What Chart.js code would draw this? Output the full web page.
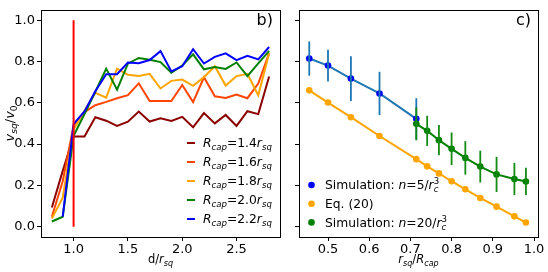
<!DOCTYPE html>
<html>
<head>
<meta charset="utf-8">
<script src="https://cdn.jsdelivr.net/npm/chart.js@4"></script>
<style>
  html, body { margin: 0; padding: 0; background: #fff; }
  #wrap { position: relative; width: 548px; height: 272px; }
  canvas { position: absolute; top: 0; }
  #left { left: 0; }
  #right { left: 290px; }
</style>
</head>
<body>
<div id="wrap">
  <canvas id="left" width="290" height="272"></canvas>
  <canvas id="right" width="258" height="272"></canvas>
</div>
<script>
// ---- panel b) data: v_sq/v_0 vs d/r_sq for several R_cap
const dSq = [0.8, 0.9, 1.0, 1.1, 1.2, 1.3, 1.4, 1.5, 1.6, 1.7, 1.8, 1.9, 2.0, 2.1, 2.2, 2.3, 2.4, 2.5, 2.6, 2.7, 2.8];
const cap14 = [0.093, 0.27, 0.437, 0.437, 0.53, 0.513, 0.488, 0.508, 0.557, 0.509, 0.525, 0.512, 0.532, 0.481, 0.55, 0.5, 0.541, 0.488, 0.559, 0.545, 0.727];
const cap16 = [0.048, 0.22, 0.49, 0.555, 0.588, 0.604, 0.622, 0.637, 0.694, 0.608, 0.608, 0.608, 0.686, 0.603, 0.723, 0.631, 0.623, 0.64, 0.622, 0.693, 0.84];
const cap18 = [0.04, 0.14, 0.47, 0.56, 0.648, 0.625, 0.765, 0.735, 0.729, 0.74, 0.669, 0.706, 0.712, 0.682, 0.724, 0.777, 0.683, 0.729, 0.74, 0.636, 0.84];
const cap20 = [0.025, 0.048, 0.44, 0.545, 0.653, 0.765, 0.663, 0.789, 0.817, 0.808, 0.797, 0.745, 0.78, 0.834, 0.762, 0.773, 0.764, 0.795, 0.729, 0.791, 0.851];
const cap22 = [null, 0.048, 0.497, 0.558, 0.656, 0.738, 0.738, 0.795, 0.791, 0.807, 0.85, 0.752, 0.777, 0.859, 0.79, 0.822, 0.839, 0.806, 0.827, 0.81, 0.87];
const capLine = [[1.0, 0.0], [1.0, 1.0]];

// ---- panel c) data: v_sq/v_0 vs r_sq/R_cap
const rBlue = [0.4545, 0.5, 0.5556, 0.625, 0.7143];
const vBlue = [0.814, 0.780, 0.717, 0.645, 0.522];
const eBlue = [0.083, 0.077, 0.108, 0.105, 0.10];
const rEq = [0.4545, 0.5, 0.5556, 0.625, 0.7143, 0.7407, 0.7692, 0.8, 0.8333, 0.8696, 0.9091, 0.9524, 0.9804];
const vEq = [0.660, 0.601, 0.530, 0.439, 0.327, 0.292, 0.258, 0.220, 0.181, 0.139, 0.097, 0.050, 0.020];
const rGreen = [0.7143, 0.7407, 0.7692, 0.8, 0.8333, 0.8696, 0.9091, 0.9524, 0.9804];
const vGreen = [0.498, 0.464, 0.419, 0.377, 0.333, 0.291, 0.253, 0.231, 0.219];
const eGreen = [0.08, 0.073, 0.073, 0.079, 0.081, 0.077, 0.085, 0.078, 0.066];

// ---- ticks
const yTicks = [0.0, 0.2, 0.4, 0.6, 0.8, 1.0];
const xTicksB = [1.0, 1.5, 2.0, 2.5];
const xTicksC = [0.5, 0.6, 0.7, 0.8, 0.9, 1.0];

const FONT = '"DejaVu Sans"';
Chart.defaults.color = '#000';
Chart.defaults.font.family = FONT;

const pts = (xs, ys) => xs.map((x, i) => ({ x: x, y: ys[i] }));

// draws text with italic / sub / sup pieces, returns width
function drawRich(ctx, parts, x, y, size, align) {
  const segs = parts.map(p => {
    const s = p.pos ? size * 0.7 : size;
    ctx.font = (p.it ? 'italic ' : '') + s + 'px ' + FONT;
    let w = ctx.measureText(p.t).width;
    if (p.sup) {
      ctx.font = s + 'px ' + FONT;
      w = Math.max(w, ctx.measureText(p.sup).width);
    }
    return { p: p, s: s, w: w };
  });
  const total = segs.reduce((a, b) => a + b.w, 0);
  let cx = align === 'center' ? x - total / 2 : (align === 'right' ? x - total : x);
  ctx.textAlign = 'left';
  ctx.textBaseline = 'alphabetic';
  ctx.fillStyle = '#000';
  segs.forEach(sg => {
    const p = sg.p;
    ctx.font = (p.it ? 'italic ' : '') + sg.s + 'px ' + FONT;
    const dy = p.pos === 'sub' ? size * 0.24 : (p.pos === 'sup' ? -size * 0.42 : 0);
    ctx.fillText(p.t, cx, y + dy);
    if (p.sup) {
      ctx.font = sg.s + 'px ' + FONT;
      ctx.fillText(p.sup, cx, y - size * 0.42);
    }
    cx += sg.w;
  });
  return total;
}

const capLabel = v => [{ t: 'R', it: 1 }, { t: 'cap', it: 1, pos: 'sub' }, { t: '=' + v }, { t: 'r', it: 1 }, { t: 'sq', it: 1, pos: 'sub' }];

// frame, panel letter, axis titles, legend
const decor = {
  id: 'decor',
  afterDatasetsDraw(chart, args, o) {
    const ctx = chart.ctx, a = chart.chartArea;
    ctx.save();
    ctx.strokeStyle = '#000';
    ctx.lineWidth = 1;
    ctx.strokeRect(Math.round(a.left) + 0.5, Math.round(a.top) + 0.5, Math.round(a.right - a.left), Math.round(a.bottom - a.top));
    ctx.font = '16px ' + FONT;
    ctx.fillStyle = '#000';
    ctx.textAlign = 'right';
    ctx.textBaseline = 'alphabetic';
    ctx.fillText(o.tag, a.right - 7, 25);
    drawRich(ctx, o.xTitle, (a.left + a.right) / 2, 263, 11.5, 'center');
    if (o.yTitle) {
      ctx.save();
      ctx.translate(13.5, (a.top + a.bottom) / 2);
      ctx.rotate(-Math.PI / 2);
      drawRich(ctx, o.yTitle, 0, 0, 13, 'center');
      ctx.restore();
    }
    chart.data.datasets.forEach((ds, i) => {
      if (!ds.legendParts) return;
      const k = ds.legendRow;
      const ry = o.legY + k * o.legStep;
      if (o.legKind === 'line') {
        ctx.strokeStyle = ds.borderColor;
        ctx.lineWidth = 2;
        ctx.beginPath();
        ctx.moveTo(o.legX, ry);
        ctx.lineTo(o.legX + 8, ry);
        ctx.stroke();
      } else {
        ctx.fillStyle = ds.pointBackgroundColor;
        ctx.beginPath();
        ctx.arc(o.legX + 3, ry, 3.3, 0, Math.PI * 2);
        ctx.fill();
      }
      drawRich(ctx, ds.legendParts, o.legText, ry + 4.3, 12.3, 'left');
    });
    ctx.restore();
  }
};

// vertical error bars for the dataset just drawn
const errBars = {
  id: 'errBars',
  afterDatasetDraw(chart, args) {
    const ds = chart.data.datasets[args.index];
    if (!ds.errors) return;
    const ctx = chart.ctx, xs = chart.scales.x, ys = chart.scales.y;
    ctx.save();
    ctx.strokeStyle = ds.errColor;
    ctx.lineWidth = 1.8;
    ds.data.forEach((p, i) => {
      const px = xs.getPixelForValue(p.x);
      ctx.beginPath();
      ctx.moveTo(px, ys.getPixelForValue(p.y - ds.errors[i]));
      ctx.lineTo(px, ys.getPixelForValue(p.y + ds.errors[i]));
      ctx.stroke();
    });
    ctx.restore();
  }
};

function axes(xMin, xMax, xTicks, yWidth, showY) {
  return {
    x: {
      type: 'linear', min: xMin, max: xMax,
      afterBuildTicks: ax => { ax.ticks = xTicks.map(v => ({ value: v })); },
      afterFit: ax => { ax.height = 35; },
      grid: { drawOnChartArea: false, tickLength: 4, color: '#000' },
      border: { display: false },
      ticks: { autoSkip: false, maxRotation: 0, padding: 1, font: { size: 13 }, callback: v => v.toFixed(1) }
    },
    y: {
      type: 'linear', min: -0.05, max: 1.05,
      afterBuildTicks: ax => { ax.ticks = yTicks.map(v => ({ value: v })); },
      afterFit: ax => { ax.width = yWidth; },
      grid: { drawOnChartArea: false, tickLength: 4, color: '#000' },
      border: { display: false },
      ticks: { padding: 2, font: { size: 13 }, callback: v => showY ? v.toFixed(1) : '' }
    }
  };
}

const lineDs = (ys, color, row, val, order) => ({
  data: pts(dSq, ys), borderColor: color, borderWidth: 2, pointRadius: 0,
  order: order, legendParts: capLabel(val), legendRow: row, spanGaps: false
});

new Chart(document.getElementById('left'), {
  type: 'line',
  data: {
    datasets: [
      lineDs(cap14, '#8b0000', 0, '1.4', 5),
      lineDs(cap16, '#ff4500', 1, '1.6', 4),
      lineDs(cap18, '#ffa500', 2, '1.8', 3),
      lineDs(cap20, '#008000', 3, '2.0', 2),
      lineDs(cap22, '#0000ff', 4, '2.2', 1),
      { data: capLine.map(p => ({ x: p[0], y: p[1] })), borderColor: '#ff0000', borderWidth: 2, pointRadius: 0, order: 0 }
    ]
  },
  options: {
    responsive: false, animation: false, events: [],
    layout: { padding: { top: 3, right: 10, left: 0, bottom: 0 } },
    scales: axes(0.7, 2.9, xTicksB, 41, true),
    plugins: {
      legend: { display: false }, tooltip: { enabled: false },
      decor: {
        tag: 'b)',
        xTitle: [{ t: 'd/' }, { t: 'r', it: 1 }, { t: 'sq', it: 1, pos: 'sub' }],
        yTitle: [{ t: 'v', it: 1 }, { t: 'sq', it: 1, pos: 'sub' }, { t: '/' }, { t: 'v', it: 1 }, { t: '0', pos: 'sub' }],
        legKind: 'line', legX: 187, legText: 203, legY: 143, legStep: 19
      }
    }
  },
  plugins: [decor]
});

const dotDs = (xs, ys, line, dot, order, parts, row, errs, errColor) => ({
  data: pts(xs, ys), borderColor: line, borderWidth: 2,
  pointRadius: 3.3, pointBackgroundColor: dot, pointBorderColor: dot, pointBorderWidth: 0,
  order: order, legendParts: parts, legendRow: row, errors: errs, errColor: errColor
});

new Chart(document.getElementById('right'), {
  type: 'line',
  data: {
    datasets: [
      dotDs(rBlue, vBlue, '#1f77b4', '#0000ff', 3,
        [{ t: 'Simulation: ' }, { t: 'n', it: 1 }, { t: '=5/' }, { t: 'r', it: 1 }, { t: 'c', it: 1, pos: 'sub', sup: '3' }], 0, eBlue, '#1f77b4'),
      dotDs(rEq, vEq, '#ffa500', '#ffa500', 2, [{ t: 'Eq. (20)' }], 1, null, null),
      dotDs(rGreen, vGreen, '#008000', '#008000', 1,
        [{ t: 'Simulation: ' }, { t: 'n', it: 1 }, { t: '=20/' }, { t: 'r', it: 1 }, { t: 'c', it: 1, pos: 'sub', sup: '3' }], 2, eGreen, '#138a13')
    ]
  },
  options: {
    responsive: false, animation: false, events: [],
    layout: { padding: { top: 3, right: 10, left: 0, bottom: 0 } },
    scales: axes(0.4296, 1.0097, xTicksC, 9, false),
    plugins: {
      legend: { display: false }, tooltip: { enabled: false },
      decor: {
        tag: 'c)',
        xTitle: [{ t: 'r', it: 1 }, { t: 'sq', it: 1, pos: 'sub' }, { t: '/' }, { t: 'R', it: 1 }, { t: 'cap', it: 1, pos: 'sub' }],
        legKind: 'dot', legX: 18.5, legText: 35, legY: 185, legStep: 18.7
      }
    }
  },
  plugins: [decor, errBars]
});
</script>
</body>
</html>
